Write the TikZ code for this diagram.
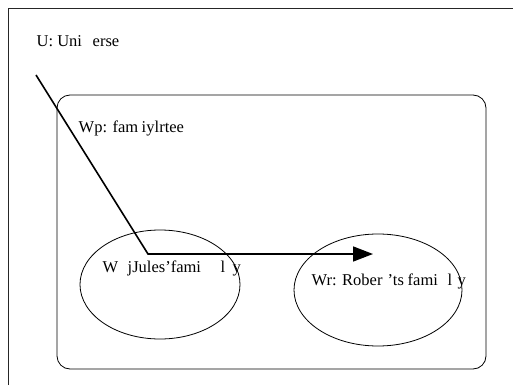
\documentclass[tikz,border=0pt]{standalone}
\usepackage{fontspec}
\setmainfont{Liberation Serif}
\usetikzlibrary{arrows.meta,shapes.geometric}
\newcommand{\placeat}[2]{\makebox[0pt][l]{\hspace*{#1pt}#2}}
\begin{document}
\begin{tikzpicture}[x=1pt,y=1pt,
  frame/.style={draw=black!85,line width=0.8pt},
  setbox/.style={draw,line width=0.8pt,rounded corners=13pt},
  world/.style={draw,ellipse,line width=0.8pt,inner sep=0pt},
  lbl/.style={anchor=base west,inner sep=0pt,font=\fontsize{16.5}{18}\selectfont},
  rel/.style={line width=1.6pt,-{Triangle[length=20pt,width=15pt]}}]
\useasboundingbox (0,0) rectangle (513,-385);
% outer universe frame (top and left edges)
\draw[frame] (8,-385) -- (8,-8) -- (513,-8);
\node[lbl] (U) at (36,-47) {\placeat{0}{U: Uni}\placeat{56}{erse}};
% family tree box
\draw[setbox] (57,-95) rectangle (486,-369);
\node[lbl] (Wp) at (78,-132) {\placeat{0}{Wp: fam}\placeat{63}{iy}\placeat{76}{lrtee}};
% worlds
\node[world,minimum width=160pt,minimum height=109pt] (Wj) at (160,-284.5) {};
\node[world,minimum width=168pt,minimum height=112pt] (Wr) at (378,-290) {};
\node[lbl] (WjL) at (102,-272) {\placeat{0}{W}\placeat{25}{jJules’fami}\placeat{118}{l}\placeat{130}{y}};
\node[lbl] (WrL) at (311,-285) {\placeat{0}{Wr: Rober}\placeat{76}{’ts}\placeat{96}{fami}\placeat{136}{l}\placeat{146}{y}};
% accessibility relation
\coordinate (s) at (36,-75);
\coordinate (b) at (148,-254);
\coordinate (t) at (373,-254);
\draw[rel] (s) -- (b) -- (t);
\end{tikzpicture}
\end{document}
